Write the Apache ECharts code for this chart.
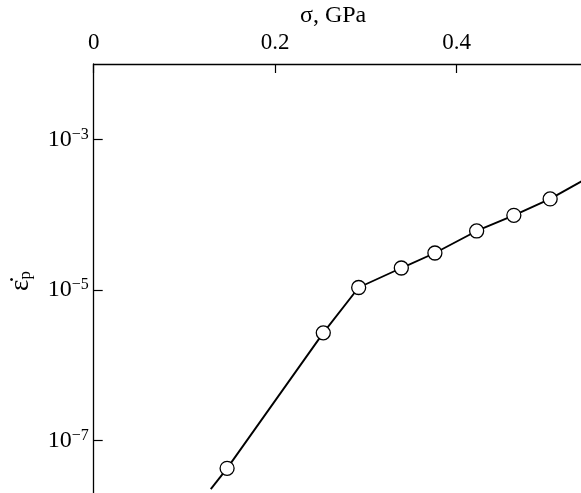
<!DOCTYPE html>
<html>
<head>
<meta charset="utf-8">
<script src="https://cdn.jsdelivr.net/npm/echarts@6/dist/echarts.min.js"></script>
<style>html,body{margin:0;padding:0;background:#fff;}#c{width:581px;height:493px;}</style>
</head>
<body>
<div id="c"></div>
<script>
// Data
const sigma = [0.147, 0.253, 0.292, 0.339, 0.376, 0.422, 0.463, 0.503];        // GPa
const strainRate = [4.3e-8, 2.7e-6, 1.08e-5, 1.96e-5, 3.1e-5, 6.08e-5, 9.8e-5, 1.62e-4];
const lineStart = [0.129, 2.28e-8];   // fitted line continues below the first point
const lineEnd = [0.545, 3.1e-4];      // and above the last point (runs off the frame)
const xTicks = [0, 0.2, 0.4];
const yTickExponents = [-7, -5, -3];

const lg = v => Math.log10(v);
const pts = sigma.map((s, i) => [s, lg(strainRate[i])]);
const headSeg = [[lineStart[0], lg(lineStart[1])], pts[0]];
const tailSeg = [pts[pts.length - 1], [lineEnd[0], lg(lineEnd[1])]];

const FONT = '"Liberation Serif", "DejaVu Serif", serif';
const chart = echarts.init(document.getElementById('c'), null, {renderer: 'canvas'});
chart.setOption({
  backgroundColor: '#fff',
  animation: false,
  grid: {left: 93.7, top: 64, right: 0, bottom: 0, containLabel: false},
  xAxis: {
    type: 'value', position: 'top', min: 0, max: 0.537, interval: 0.2,
    axisLine: {show: true, onZero: false, lineStyle: {color: '#000', width: 1.3}},
    axisTick: {show: true, inside: true, length: 9, customValues: xTicks, lineStyle: {color: '#000', width: 1.2}},
    axisLabel: {
      margin: 10, color: '#000', fontFamily: FONT, fontSize: 23,
      customValues: xTicks,
      formatter: v => (v === 0 ? '0' : String(Math.round(v * 10) / 10))
    },
    splitLine: {show: false}
  },
  yAxis: {
    type: 'value', min: -7.694, max: -2, interval: 1,
    axisLine: {show: true, onZero: false, lineStyle: {color: '#000', width: 1.3}},
    axisTick: {show: true, inside: true, length: 9, customValues: yTickExponents, lineStyle: {color: '#000', width: 1.2}},
    axisLabel: {
      margin: 5, color: '#000', fontFamily: FONT,
      customValues: yTickExponents,
      formatter: v => '{a|10}{b|\u2212' + Math.abs(v) + '}',
      rich: {
        a: {fontFamily: FONT, fontSize: 24, color: '#000', lineHeight: 26, verticalAlign: 'middle'},
        b: {fontFamily: FONT, fontSize: 16, color: '#000', lineHeight: 16, verticalAlign: 'top'}
      }
    },
    splitLine: {show: false}
  },
  graphic: [
    {type: 'text', left: 300, top: 4, style: {text: 'σ, GPa', font: '24px ' + FONT, fill: '#000'}},
    {type: 'text', x: 21, y: 281, rotation: Math.PI / 2, originX: 0, originY: 0,
     style: {text: '{e|\u03B5\u0307}{p|p}', align: 'center', verticalAlign: 'middle',
       rich: {e: {font: '27px ' + FONT, fill: '#000'}, p: {font: '17px ' + FONT, fill: '#000', padding: [10, 0, 0, 0]}}}}
  ],
  series: [
    {type: 'line', data: headSeg, symbol: 'none', lineStyle: {color: '#000', width: 1.9}, z: 1, silent: true},
    {type: 'line', data: tailSeg, symbol: 'none', lineStyle: {color: '#000', width: 1.9}, z: 1, silent: true},
    {type: 'line', data: pts, symbol: 'circle', symbolSize: 14,
     lineStyle: {color: '#000', width: 1.9},
     itemStyle: {color: '#fff', borderColor: '#000', borderWidth: 1.3}, z: 3}
  ]
});
</script>
</body>
</html>
